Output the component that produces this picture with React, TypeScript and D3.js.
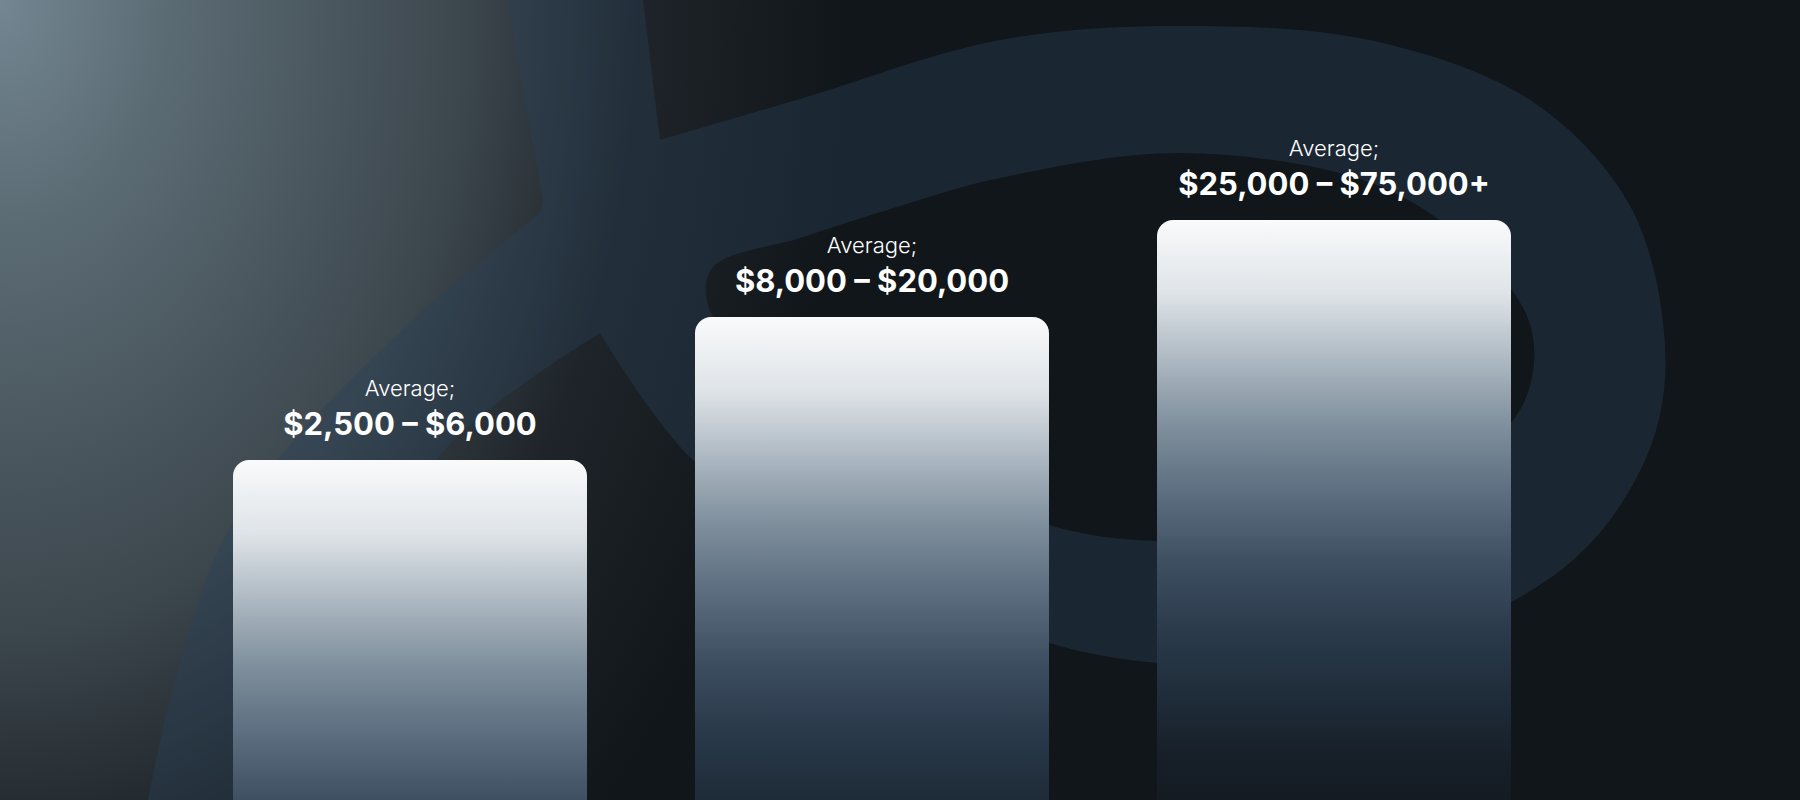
import React from "react";
import * as d3 from "d3";

// ---- data ----
const tierKeys: string[] = ["low", "mid", "high"];
const captionLabels: string[] = ["Average;", "Average;", "Average;"];
const rangeLabels: string[] = ["$2,500 – $6,000", "$8,000 – $20,000", "$25,000 – $75,000+"];
// relative bar heights (visual index, px-equivalent units on a 0–800 scale)
const barHeights: number[] = [340, 483, 580];

const W = 1800;
const H = 800;

// bar gradient: colour as a function of distance from the bar top
const barStops: [number, string][] = [
  [0, "#f9fafb"],
  [0.126, "#dfe4e8"],
  [0.25, "#a9b5bf"],
  [0.36, "#7d8d9b"],
  [0.47, "#5c6e80"],
  [0.59, "#3e4f62"],
  [0.71, "#2a3a4b"],
  [0.83, "#1e2b38"],
  [0.94, "#161e27"],
  [1, "#141b23"],
];

function seg(points: [number, number][], curve: any, first: boolean): string {
  const s = d3.line().curve(curve)(points) || "";
  return first ? s : s.replace(/^M/, "L");
}

export default function App() {
  const x = d3.scaleBand<string>().domain(tierKeys).range([233, 1511]).paddingInner(0.2338).paddingOuter(0);
  const y = d3.scaleLinear().domain([0, 800]).range([H, 0]);

  // decorative logo shape in the background
  const outline =
    seg([[507, 0], [643, 0], [660, 140]], d3.curveLinear, true) +
    seg(
      [
        [660, 140], [800, 99], [1000, 40], [1183, 26], [1374, 41], [1533, 102], [1629, 204],
        [1664, 332], [1655, 434], [1597, 536], [1511, 602], [1330, 665], [1157, 663],
        [1049, 643], [860, 570], [693, 460], [600, 333],
      ],
      d3.curveCatmullRom,
      false
    ) +
    seg([[600, 333], [447, 447], [370, 580], [330, 800]], d3.curveCatmullRom, false) +
    seg([[330, 800], [148, 800]], d3.curveLinear, false) +
    seg([[148, 800], [170, 700], [220, 547], [280, 457], [413, 320], [540, 213]], d3.curveCatmullRom, false) +
    seg([[540, 213], [543, 200], [507, 0]], d3.curveLinear, false) +
    "Z";
  const hole =
    d3
      .line()
      .curve(d3.curveCatmullRomClosed)([
        [713, 267], [800, 238], [900, 206], [1000, 178], [1183, 153], [1374, 184], [1470, 245], [1527, 316],
        [1533, 372], [1511, 423], [1420, 490], [1300, 530], [1157, 541], [1049, 525], [880, 450],
        [760, 370], [708, 305],
      ]) || "";

  const valueGap = 25;
  const captionGap = 39;

  return (
    <svg
      width={W}
      height={H}
      viewBox={`0 0 ${W} ${H}`}
      style={{ position: "absolute", left: 0, top: 0, display: "block" }}
    >
      <defs>
        <radialGradient
          id="glow"
          gradientUnits="userSpaceOnUse"
          cx={0}
          cy={0}
          r={1}
          gradientTransform="scale(850 1150)"
        >
          <stop offset="0" stopColor="#738691" />
          <stop offset="0.2" stopColor="#5b6b74" />
          <stop offset="0.55" stopColor="#3c464d" />
          <stop offset="0.75" stopColor="#1e2429" />
          <stop offset="1" stopColor="#11161a" />
        </radialGradient>
        {tierKeys.map((k, i) => {
          const top = y(barHeights[i]);
          return (
            <linearGradient
              key={k}
              id={`bar-${k}`}
              gradientUnits="userSpaceOnUse"
              x1={0}
              x2={0}
              y1={top}
              y2={top + 580}
            >
              {barStops.map(([o, c]) => (
                <stop key={o} offset={o} stopColor={c} />
              ))}
            </linearGradient>
          );
        })}
      </defs>

      <rect x={0} y={0} width={W} height={H} fill="#11161a" />
      <rect x={0} y={0} width={W} height={H} fill="url(#glow)" />
      <path d={outline + hole} fill="#2b4359" fillOpacity={0.38} fillRule="evenodd" />

      {tierKeys.map((k, i) => {
        const bx = x(k) as number;
        const bw = x.bandwidth();
        const top = y(barHeights[i]);
        const cx = bx + bw / 2;
        return (
          <g key={k}>
            <rect x={bx} y={top} width={bw} height={y(0) - top + 30} rx={16} ry={16} fill={`url(#bar-${k})`} />
            <text
              x={cx}
              y={top - valueGap - captionGap}
              textAnchor="middle"
              fill="#ffffff"
              fontFamily="Inter, 'Noto Sans', sans-serif"
              fontWeight={300}
              fontSize={22}
            >
              {captionLabels[i]}
            </text>
            <text
              x={cx}
              y={top - valueGap}
              textAnchor="middle"
              fill="#ffffff"
              fontFamily="Inter, 'Noto Sans', sans-serif"
              fontWeight={700}
              fontSize={31}
            >
              {rangeLabels[i]}
            </text>
          </g>
        );
      })}
    </svg>
  );
}
